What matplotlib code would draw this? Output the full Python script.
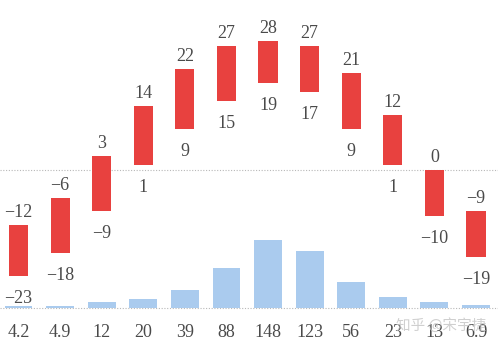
import matplotlib.pyplot as plt

# 月份顺序（1—12 月）
MONTHS = list(range(12))

# 月平均最高 / 最低气温（℃）
TEMP_HIGH = [-12, -6, 3, 14, 22, 27, 28, 27, 21, 12, 0, -9]
TEMP_LOW = [-23, -18, -9, 1, 9, 15, 19, 17, 9, 1, -10, -19]

# 月降水量（mm）
PRECIP = [4.2, 4.9, 12, 20, 39, 88, 148, 123, 56, 23, 13, 6.9]
PRECIP_LABELS = ["4.2", "4.9", "12", "20", "39", "88", "148", "123", "56", "23", "13", "6.9"]

RED = "#E8413F"
BLUE = "#AACBEE"
TEXT = "#4A4A4A"
LINE = "#B8B8B8"
FONT = ["Liberation Serif", "DejaVu Serif"]
FS = 13


def fmt(v):
    return f"\u2212{abs(v)}" if v < 0 else str(v)


fig = plt.figure(figsize=(4.98, 3.51), dpi=100)

# 降水轴（底部）
ax_p = fig.add_axes([0, 0, 1, 1])
ax_p.set_xlim(-0.445, 11.53)
ax_p.set_ylim(-93.5, 670)
ax_p.bar(MONTHS, PRECIP, width=0.67, color=BLUE, zorder=2)
ax_p.axhline(0, color=LINE, lw=0.8, ls=(0, (1, 1.5)), zorder=1)
for m, lab in zip(MONTHS, PRECIP_LABELS):
    ax_p.annotate(lab, (m, 0), xytext=(0, -29), textcoords="offset pixels",
                  ha="center", va="baseline", fontsize=FS, color=TEXT,
                  family=FONT)
ax_p.axis("off")

# 气温轴（上部）
ax_t = fig.add_axes([0, 0, 1, 1], sharex=ax_p)
ax_t.set_ylim(-39.35, 36.96)
ax_t.patch.set_alpha(0)
ax_t.axhline(0, color=LINE, lw=0.8, ls=(0, (1, 1.5)), zorder=1)
heights = [h - l for h, l in zip(TEMP_HIGH, TEMP_LOW)]
ax_t.bar(MONTHS, heights, bottom=TEMP_LOW, width=0.46, color=RED, zorder=2)
for m, hi, lo in zip(MONTHS, TEMP_HIGH, TEMP_LOW):
    ax_t.annotate(fmt(hi), (m, hi), xytext=(0, 8), textcoords="offset pixels",
                  ha="center", va="baseline", fontsize=FS, color=TEXT,
                  family=FONT)
    ax_t.annotate(fmt(lo), (m, lo), xytext=(0, -27), textcoords="offset pixels",
                  ha="center", va="baseline", fontsize=FS, color=TEXT,
                  family=FONT)
ax_t.axis("off")

# 水印
fig.text(0.795, 0.06, "知乎 @宋宇捷", fontsize=10.5, color="#C4C4C4", alpha=0.8,
         family=["Noto Sans CJK SC", "DejaVu Sans"], ha="left", va="baseline")

fig.savefig("out.png", dpi=100)
plt.close(fig)
